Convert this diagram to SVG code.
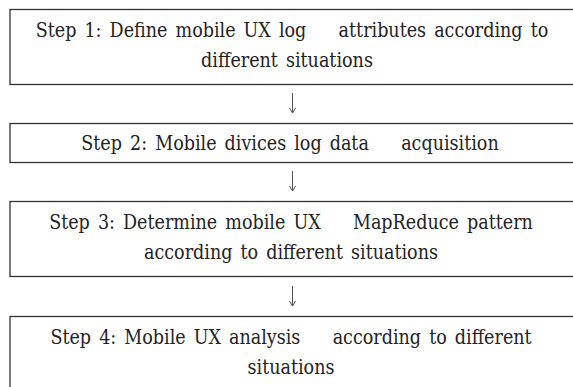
<svg xmlns="http://www.w3.org/2000/svg" width="573" height="387" viewBox="0 0 573 387">
<style>
.box{fill:#fff;stroke:#333;stroke-width:1.3}
.t{font-family:"DejaVu Serif Condensed","DejaVu Serif",serif;font-size:19.5px;fill:#222;text-anchor:middle;white-space:pre;word-spacing:2.5px}
.c{stroke:#555;stroke-width:1;fill:none}
</style>
<rect width="573" height="387" fill="#fff"/>
<g id="step1">
<rect class="box" x="10" y="9.5" width="580" height="75"/>
<text class="t" x="292" y="37" xml:space="preserve">Step 1: Define mobile UX log    attributes according to</text>
<text class="t" x="287" y="67">different situations</text>
</g>
<g id="step2">
<rect class="box" x="10" y="123.5" width="580" height="39"/>
<text class="t" x="290" y="150" xml:space="preserve">Step 2: Mobile divices log data    acquisition</text>
</g>
<g id="step3">
<rect class="box" x="10" y="201.5" width="580" height="75"/>
<text class="t" x="291" y="229" xml:space="preserve">Step 3: Determine mobile UX    MapReduce pattern</text>
<text class="t" x="291" y="259">according to different situations</text>
</g>
<g id="step4">
<rect class="box" x="10" y="316.5" width="580" height="75"/>
<text class="t" x="291" y="344" xml:space="preserve">Step 4: Mobile UX analysis    according to different</text>
<text class="t" x="291" y="374">situations</text>
</g>
<g id="connectors">
<path class="c" d="M292.5 93 V113 M289.5 108 L292.5 113 L295.5 108"/>
<path class="c" d="M292.5 171 V191 M289.5 186 L292.5 191 L295.5 186"/>
<path class="c" d="M292.5 286 V306 M289.5 301 L292.5 306 L295.5 301"/>
</g>
</svg>
